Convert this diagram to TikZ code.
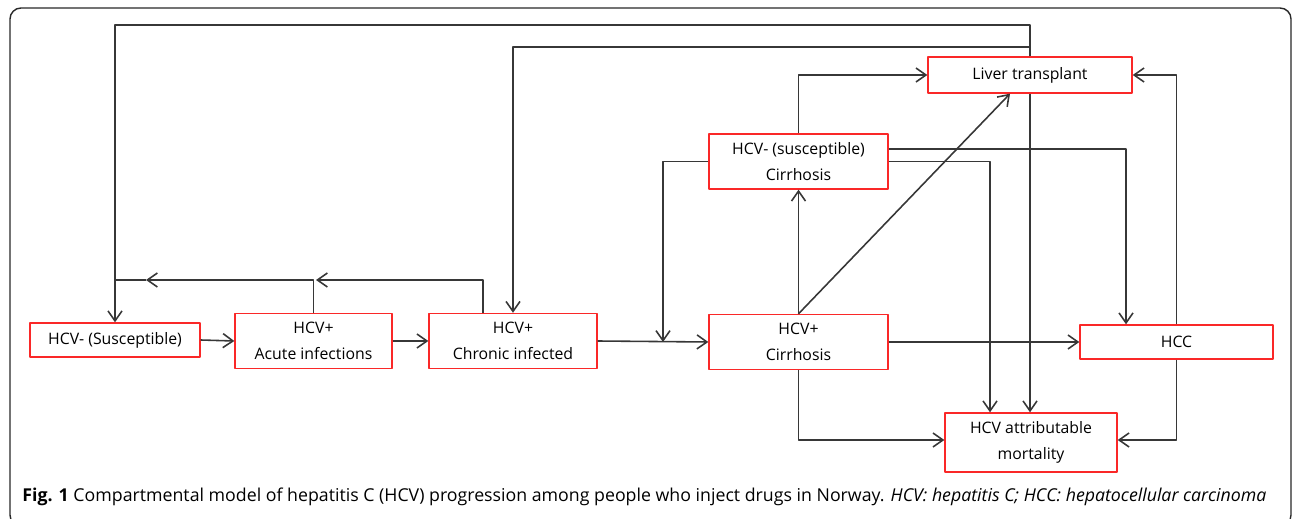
\documentclass[tikz,border=0pt]{standalone}
\usepackage{fontspec}
\setmainfont{Open Sans}
\usetikzlibrary{arrows.meta}
\definecolor{boxred}{RGB}{250,40,40}
\definecolor{linegray}{RGB}{55,55,55}
\definecolor{framegray}{RGB}{40,40,40}
\begin{document}
\begin{tikzpicture}[x=0.02cm, y=-0.02cm, >={Straight Barb[length=2mm,width=2.8mm]},
	line join=round,
	comp/.style={draw=boxred, line width=0.8pt, fill=white, align=center, inner sep=0pt,
		font=\fontsize{9}{14.5}\selectfont},
	arr/.style={->, draw=linegray, line width=0.9pt},
	ln/.style={draw=linegray, line width=0.9pt}]
	\useasboundingbox (0,0) rectangle (1293,519);
	\draw[framegray, line width=0.8pt, rounded corners=0.22cm] (10,8) rectangle (1291,526);
	% compartments
	\node[comp, minimum width=3.4cm, minimum height=0.68cm] (sus) at (115,340) {HCV- (Susceptible)};
	\node[comp, minimum width=3.14cm, minimum height=1.1cm] (acu) at (313.5,341) {HCV+\\Acute infections};
	\node[comp, minimum width=3.36cm, minimum height=1.1cm] (chr) at (513,341) {HCV+\\Chronic infected};
	\node[comp, minimum width=3.58cm, minimum height=1.1cm] (cir) at (798.5,342) {HCV+\\Cirrhosis};
	\node[comp, minimum width=3.58cm, minimum height=1.1cm] (scir) at (798.5,161.5) {HCV- (susceptible)\\Cirrhosis};
	\node[comp, minimum width=4.08cm, minimum height=0.72cm] (lt) at (1030,75) {Liver transplant};
	\node[comp, minimum width=3.86cm, minimum height=0.68cm] (hcc) at (1176.5,342) {HCC};
	\node[comp, minimum width=3.44cm, minimum height=1.18cm] (mort) at (1031,442.5) {HCV attributable\\mortality};
	% bends
	\coordinate (topA) at (1030,25);
	\coordinate (topB) at (1030,47);
	\coordinate (bkA) at (146,280);
	\coordinate (bkB) at (316,280);
	\coordinate (rein) at (663,342);
	% forward flow
	\draw[arr] (sus.east) -- (acu.west);
	\draw[arr] (acu.east) -- (chr.west);
	\draw[arr] (chr.east) -- (cir.west);
	\draw[arr] (cir.east) -- (hcc.west);
	% clearance
	\draw[arr] (acu.north) |- (bkA);
	\draw[ln] (bkA) -- (sus.north |- bkA);
	\draw[arr] ([xshift=-0.6cm]chr.north) |- (bkB);
	% liver transplant
	\draw[arr] (lt.north) -- (topA) -| (sus.north);
	\draw[arr] (lt.north) -- (topB) -| (chr.north);
	\draw[arr] (lt.south) -- (lt.south |- mort.north);
	% cirrhosis
	\draw[arr] (scir.west) -| (rein);
	\draw[arr] (cir.north) -- (scir.south);
	\draw[arr] (cir.north) -- ([xshift=-0.4cm]lt.south);
	\draw[arr] (scir.north) |- (lt.west);
	\draw[arr] ([yshift=0.25cm]scir.east) -| ([xshift=-1.01cm]hcc.north);
	\draw[arr] (scir.east) -| ([xshift=-0.82cm]mort.north);
	\draw[arr] (cir.south) |- ([yshift=0.05cm]mort.west);
	% HCC
	\draw[arr] (hcc.north) |- (lt.east);
	\draw[arr] (hcc.south) |- ([yshift=0.05cm]mort.east);
	% caption
	\node[anchor=west, inner sep=0pt, font=\fontsize{10.1}{12}\selectfont] (cap) at (22,497)
		{\textbf{Fig. 1} Compartmental model of hepatitis C (HCV) progression among people who inject drugs in Norway. \textit{HCV: hepatitis C; HCC: hepatocellular carcinoma}};
\end{tikzpicture}
\end{document}
